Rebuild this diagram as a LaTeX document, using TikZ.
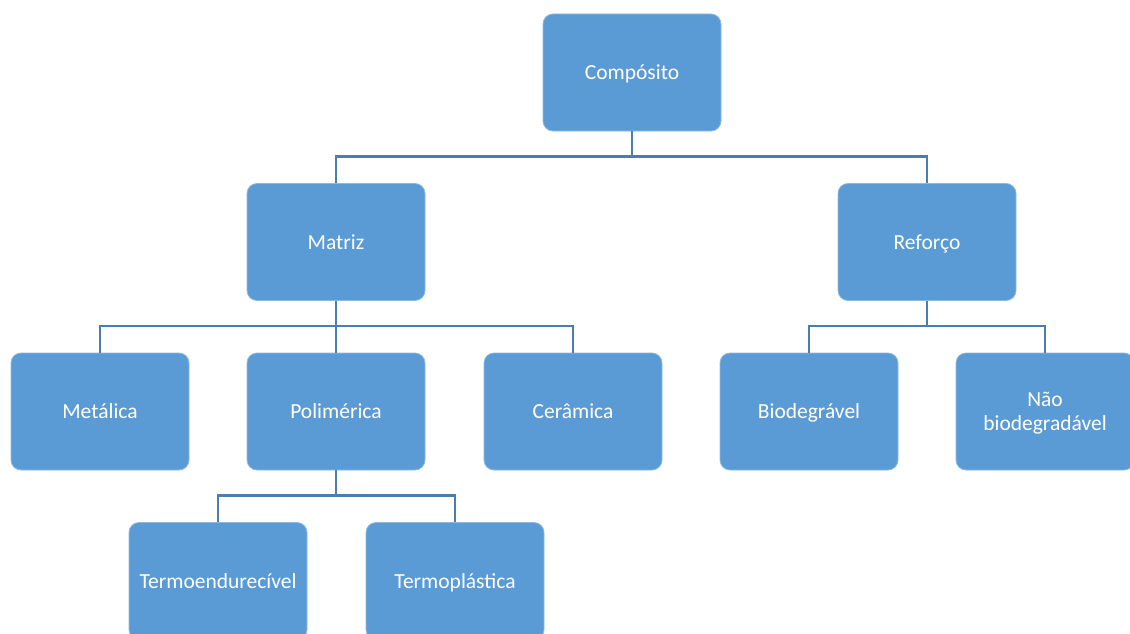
\documentclass[tikz,border=0pt]{standalone}
\usepackage{fontspec}
\setmainfont{Carlito}
\definecolor{boxblue}{HTML}{5B9BD5}
\definecolor{linkblue}{HTML}{4A7EB0}
\begin{document}
\begin{tikzpicture}[x=1pt,y=-1pt,
  box/.style={fill=boxblue, draw=boxblue!70!white, line width=0.8pt, rounded corners=10pt,
    minimum width=178pt, minimum height=117pt, inner sep=0pt,
    text=white, align=center, font=\fontsize{21.5}{24}\selectfont},
  oneline/.style={box, text height=20pt, text depth=5.6pt},
  link/.style={draw=linkblue, line width=2.6pt}]
\useasboundingbox (0,0) rectangle (1130,634);
% nodes
\node[oneline] (comp) at (632,72.5) {Compósito};
\node[oneline] (mat) at (336,242) {Matriz};
\node[oneline] (ref) at (927,242) {Reforço};
\node[oneline] (met) at (100,411.5) {Metálica};
\node[oneline] (pol) at (336,411.5) {Polimérica};
\node[oneline] (cer) at (573,411.5) {Cerâmica};
\node[oneline] (bio) at (809,411.5) {Biodegrável};
\node[box] (nbio) at (1045,411.5) {\raisebox{-2.5pt}[\height][\depth]{\begin{tabular}{@{}c@{}}Não\\biodegradável\end{tabular}}};
\node[oneline] (term) at (218,581) {Termoendurecível};
\node[oneline] (tpl) at (455,581) {Termoplástica};
% connectors
\draw[link] (comp.south) -- ++(0,25) coordinate (b1);
\draw[link] (b1) -| (mat.north);
\draw[link] (b1) -| (ref.north);
\draw[link] (mat.south) -- ++(0,25) coordinate (b2);
\draw[link] (b2) -| (met.north);
\draw[link] (b2) -| (cer.north);
\draw[link] (b2) -- (pol.north);
\draw[link] (ref.south) -- ++(0,25) coordinate (b3);
\draw[link] (b3) -| (bio.north);
\draw[link] (b3) -| (nbio.north);
\draw[link] (pol.south) -- ++(0,25) coordinate (b4);
\draw[link] (b4) -| (term.north);
\draw[link] (b4) -| (tpl.north);
\end{tikzpicture}
\end{document}
